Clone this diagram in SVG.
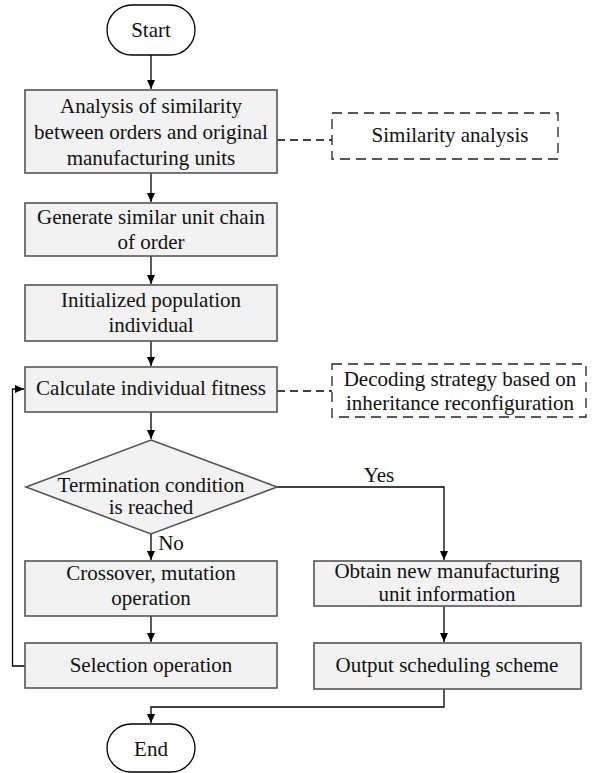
<svg xmlns="http://www.w3.org/2000/svg" width="596" height="773" viewBox="0 0 596 773">
<defs>
<marker id="ah" markerWidth="10" markerHeight="10" refX="9" refY="5" orient="auto" markerUnits="userSpaceOnUse">
<path d="M0,1 L9,5 L0,9 Z" fill="#000"/>
</marker>
<style>
.box{fill:#f2f2f2;stroke:#555;stroke-width:1.6}
.term{fill:#fff;stroke:#000;stroke-width:1.3}
.dash{fill:none;stroke:#222;stroke-width:1.3;stroke-dasharray:10,6}
.ln{fill:none;stroke:#000;stroke-width:1.3}
.dl{fill:none;stroke:#000;stroke-width:1.3;stroke-dasharray:8,5}
text{font-family:"Liberation Serif","Times New Roman",serif;font-size:21px;fill:#111;text-anchor:middle}
</style>
</defs>
<rect width="596" height="773" fill="#fff"/>
<g id="connectors">
<path class="ln" d="M151,55 V89" marker-end="url(#ah)"/>
<path class="ln" d="M151,173 V202" marker-end="url(#ah)"/>
<path class="ln" d="M151,256 V284" marker-end="url(#ah)"/>
<path class="ln" d="M151,341 V366" marker-end="url(#ah)"/>
<path class="ln" d="M151,412 V439" marker-end="url(#ah)"/>
<path class="ln" d="M151,534 V560" marker-end="url(#ah)"/>
<path class="ln" d="M151,616 V642" marker-end="url(#ah)"/>
<path class="ln" d="M25,666 H12.5 V389 H24" marker-end="url(#ah)"/>
<path class="ln" d="M277,487 H444 V560" marker-end="url(#ah)"/>
<path class="ln" d="M444,606 V642" marker-end="url(#ah)"/>
<path class="ln" d="M444,689 V707 H151 V723" marker-end="url(#ah)"/>
<path class="dl" d="M277,140 H332"/>
<path class="dl" d="M277,391 H332"/>
<text x="379" y="482">Yes</text>
<text x="171" y="550">No</text>
</g>
<g id="start"><rect class="term" x="107" y="5" width="88" height="50" rx="25"/><text x="151" y="37">Start</text></g>
<g id="analysis"><rect class="box" x="25" y="90" width="252" height="83"/>
<text x="151" y="113">Analysis of similarity</text>
<text x="151" y="139">between orders and original</text>
<text x="151" y="165">manufacturing units</text></g>
<g id="similarity"><rect class="dash" x="332" y="113" width="226" height="46"/><text x="450" y="142">Similarity analysis</text></g>
<g id="generate"><rect class="box" x="25" y="203" width="252" height="53"/>
<text x="151" y="224">Generate similar unit chain</text>
<text x="151" y="249">of order</text></g>
<g id="init"><rect class="box" x="25" y="285" width="252" height="56"/>
<text x="151" y="307">Initialized population</text>
<text x="151" y="332">individual</text></g>
<g id="fitness"><rect class="box" x="25" y="367" width="252" height="45"/>
<text x="151" y="395">Calculate individual fitness</text></g>
<g id="decoding"><rect class="dash" x="332" y="364" width="254" height="53"/>
<text x="460" y="386">Decoding strategy based on</text>
<text x="460" y="410">inheritance reconfiguration</text></g>
<g id="termination"><polygon class="box" points="151,440 277,487 151,534 26,487"/>
<text x="151" y="492">Termination condition</text>
<text x="151" y="514">is reached</text></g>
<g id="crossover"><rect class="box" x="25" y="561" width="252" height="55"/>
<text x="151" y="580">Crossover, mutation</text>
<text x="151" y="605">operation</text></g>
<g id="selection"><rect class="box" x="25" y="643" width="252" height="45"/>
<text x="151" y="672">Selection operation</text></g>
<g id="obtain"><rect class="box" x="314" y="561" width="267" height="45"/>
<text x="447" y="578">Obtain new manufacturing</text>
<text x="447" y="601">unit information</text></g>
<g id="output"><rect class="box" x="314" y="643" width="267" height="46"/>
<text x="447" y="672">Output scheduling scheme</text></g>
<g id="end"><rect class="term" x="107" y="724" width="88" height="48" rx="24"/><text x="151" y="756">End</text></g>
</svg>
